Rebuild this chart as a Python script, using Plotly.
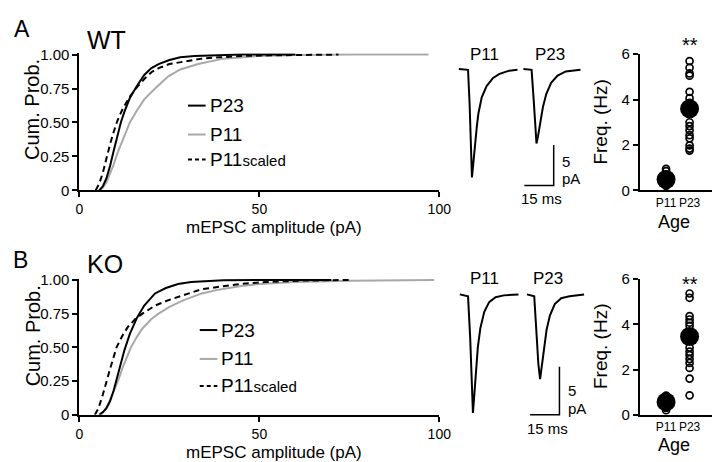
import plotly.graph_objects as go

W, H = 720, 462
FONT = "Liberation Sans, Arial, Helvetica, sans-serif"
GRAY = "#a8a8a8"

# --- CDF data (mEPSC amplitude pA, cumulative probability) ---
wt_p23_amp = [5.5, 6.5, 7.5, 8.5, 9.5, 10.5, 11.5, 12.5, 14, 16, 18, 20, 22, 25, 28, 32, 38, 45, 60]
wt_p23_cum = [0, 0.03, 0.09, 0.18, 0.29, 0.40, 0.50, 0.58, 0.68, 0.77, 0.85, 0.90, 0.93, 0.96, 0.98, 0.99, 0.997, 1.0, 1.0]
wt_p11_amp = [5.5, 6.5, 7.5, 8.5, 9.5, 10.5, 12, 14, 16, 18, 21, 24.7, 28, 33, 40, 50, 60, 75, 97]
wt_p11_cum = [0, 0.02, 0.06, 0.12, 0.19, 0.27, 0.37, 0.50, 0.59, 0.67, 0.75, 0.84, 0.89, 0.93, 0.97, 0.99, 0.996, 1.0, 1.0]
wt_sc_amp = [4.5, 5.5, 6.5, 7.5, 8.5, 9.5, 10.5, 12, 14, 16, 18, 20, 22, 25, 29, 34, 39, 45, 55, 72]
wt_sc_cum = [0, 0.05, 0.13, 0.24, 0.34, 0.43, 0.51, 0.60, 0.69, 0.76, 0.82, 0.87, 0.90, 0.93, 0.95, 0.97, 0.98, 0.99, 0.995, 1.0]

ko_p23_amp = [5.5, 6.5, 7.5, 8.5, 9.5, 10.5, 11.5, 12.5, 14, 16, 18, 21, 24, 27.4, 31, 34, 40, 50, 70]
ko_p23_cum = [0, 0.02, 0.05, 0.10, 0.18, 0.28, 0.38, 0.48, 0.60, 0.72, 0.81, 0.90, 0.94, 0.97, 0.985, 0.99, 0.997, 1.0, 1.0]
ko_p11_amp = [6, 7, 8, 9, 10, 10.7, 12, 14.3, 16, 17.5, 20, 22, 25, 29, 34, 39, 45, 50, 60, 75, 98.6]
ko_p11_cum = [0, 0.03, 0.08, 0.14, 0.21, 0.25, 0.35, 0.50, 0.58, 0.64, 0.71, 0.75, 0.80, 0.85, 0.90, 0.93, 0.955, 0.97, 0.985, 0.995, 1.0]
ko_sc_amp = [4.3, 5.3, 6.5, 7.5, 8.5, 10.3, 12, 13.4, 15.5, 17.5, 21, 24.7, 29, 33.8, 39, 44.6, 52, 62, 75]
ko_sc_cum = [0, 0.05, 0.15, 0.25, 0.34, 0.50, 0.59, 0.65, 0.71, 0.75, 0.81, 0.85, 0.89, 0.93, 0.95, 0.97, 0.985, 0.995, 1.0]

# --- average mEPSC waveforms (time ms, current pA) ---
wt_p11_t = [0, 4.7, 5.5, 6.2, 6.7, 7.5, 8.3, 9.2, 10, 11.7, 14.2, 17.5, 20.8, 25.8, 30]
wt_p11_i = [0, -0.1, -4.3, -10.2, -13.4, -11.4, -9.0, -7.1, -5.5, -3.5, -2.1, -1.1, -0.6, -0.2, -0.1]
wt_p23_t = [0, 4.2, 5.3, 6.2, 6.7, 7.5, 8.8, 10, 11.7, 14.2, 17.5, 21.7, 29.2]
wt_p23_i = [0, -0.1, -3.9, -7.5, -9.2, -8.3, -6.3, -4.7, -3.1, -1.7, -0.8, -0.3, -0.1]
ko_p11_t = [0, 4.2, 5.3, 6.2, 6.7, 7.5, 8.3, 9.2, 10.5, 12.5, 15, 18.3, 22.5, 30]
ko_p11_i = [0, -0.2, -4.5, -9.5, -12.3, -10.2, -7.5, -5.5, -3.5, -1.8, -0.8, -0.3, -0.1, 0]
ko_p23_t = [0, 3.7, 5, 5.8, 6.7, 7.5, 8.7, 10, 11.7, 14.2, 17.5, 21.7, 29.2]
ko_p23_i = [0, -0.2, -4.5, -7.2, -8.8, -7.5, -5.5, -3.7, -2.2, -1.0, -0.4, -0.2, 0]
SCALE_MS, SCALE_PA = 15, 5

# --- frequency (Hz) per cell and means ---
wt_p11_freq = [0.95, 0.85, 0.7, 0.55, 0.4, 0.3, 0.2]
wt_p23_freq = [5.69, 5.40, 5.15, 5.05, 4.34, 4.06, 3.85, 3.0, 2.83, 2.65, 2.43, 2.29, 1.98, 1.84, 1.75]
ko_p11_freq = [0.85, 0.75, 0.6, 0.45, 0.3, 0.2]
ko_p23_freq = [5.36, 5.17, 4.36, 4.21, 4.07, 3.93, 2.97, 2.79, 2.64, 2.46, 2.29, 2.07, 1.6, 0.86]
wt_mean = [0.48, 3.59]
ko_mean = [0.57, 3.46]
ages = ["P11", "P23"]


def fx(px):
    return px / W


def fy(py):
    return 1 - py / H


def xdom(a, b):
    return [fx(a), fx(b)]


def ydom(top, bottom):
    return [fy(bottom), fy(top)]


fig = go.Figure()

def line(x, y, color, n, dash=None, width=2):
    fig.add_trace(go.Scatter(x=x, y=y, mode="lines", xaxis="x" + n, yaxis="y" + n,
                             line=dict(color=color, width=width, dash=dash),
                             showlegend=False, hoverinfo="skip"))

# CDFs (grey first so black sits on top)
line(wt_p11_amp, wt_p11_cum, GRAY, "")
line(wt_sc_amp, wt_sc_cum, "black", "", dash="6px,4px")
line(wt_p23_amp, wt_p23_cum, "black", "")
line(ko_p11_amp, ko_p11_cum, GRAY, "2")
line(ko_sc_amp, ko_sc_cum, "black", "2", dash="6px,4px")
line(ko_p23_amp, ko_p23_cum, "black", "2")

# frequency panels
for n, p11, p23, mean in [("3", wt_p11_freq, wt_p23_freq, wt_mean), ("4", ko_p11_freq, ko_p23_freq, ko_mean)]:
    fig.add_trace(go.Scatter(x=[ages[0]] * len(p11) + [ages[1]] * len(p23), y=p11 + p23, mode="markers",
                             xaxis="x" + n, yaxis="y" + n, cliponaxis=False,
                             marker=dict(symbol="circle-open", size=7, color="black", line=dict(width=1.7)),
                             showlegend=False, hoverinfo="skip"))
    fig.add_trace(go.Scatter(x=ages, y=mean, mode="markers", xaxis="x" + n, yaxis="y" + n, cliponaxis=False,
                             marker=dict(symbol="circle", size=19, color="black"),
                             showlegend=False, hoverinfo="skip"))

# waveforms
line(wt_p11_t, wt_p11_i, "black", "5")
line(wt_p23_t, wt_p23_i, "black", "6")
line(ko_p11_t, ko_p11_i, "black", "7")
line(ko_p23_t, ko_p23_i, "black", "8")

# scale bars (corner position in P23 axes)
for n, cx, cy in [("6", 15.5, -14.4), ("8", 16.6, -12.5)]:
    line([cx - SCALE_MS, cx, cx], [cy, cy, cy + SCALE_PA], "black", n, width=1.5)

axis = dict(showline=True, linecolor="black", linewidth=2, ticks="outside", ticklen=5, tickwidth=2,
            tickcolor="black", showgrid=False, zeroline=False, tickfont=dict(size=15, color="black"))
hidden = dict(visible=False, showgrid=False, zeroline=False)

cdf_x = dict(axis, range=[0, 100], tickvals=[0, 50, 100], ticktext=["0", "50", "100"],
             tickfont=dict(size=14, color="black"))
cdf_y = dict(axis, range=[0, 1.01], tickvals=[0, 0.25, 0.5, 0.75, 1],
             ticktext=["0", "0.25", "0.50", "0.75", "1.00"])
fr_x = dict(axis, type="category", categoryorder="array", categoryarray=ages, range=[-1.12, 2.04],
            ticks="", tickangle=0, tickfont=dict(size=12, color="black"))
fr_y = dict(axis, range=[0, 6], tickvals=[0, 2, 4, 6])

layout = dict(
    width=W, height=H, margin=dict(l=0, r=0, t=0, b=0),
    paper_bgcolor="white", plot_bgcolor="rgba(0,0,0,0)",
    font=dict(family=FONT, color="black"),
    xaxis=dict(cdf_x, domain=xdom(69, 437), anchor="y"),
    yaxis=dict(cdf_y, domain=ydom(180 - 1.01 * 141, 180), anchor="x"),
    xaxis2=dict(cdf_x, domain=xdom(69, 437), anchor="y2"),
    yaxis2=dict(cdf_y, domain=ydom(413 - 1.01 * 140, 413), anchor="x2"),
    xaxis3=dict(fr_x, domain=xdom(642, 718), anchor="y3"),
    yaxis3=dict(fr_y, domain=ydom(38.5, 180), anchor="x3"),
    xaxis4=dict(fr_x, domain=xdom(642, 718), anchor="y4"),
    yaxis4=dict(fr_y, domain=ydom(272, 413), anchor="x4"),
    # WT traces: 2 px/ms, 8.4 px/pA, baseline at 54 px
    xaxis5=dict(hidden, domain=xdom(455, 519), range=[-1, 31], anchor="y5"),
    yaxis5=dict(hidden, domain=ydom(30, 200), range=[-(200 - 54) / 8.4, (54 - 30) / 8.4], anchor="x5"),
    xaxis6=dict(hidden, domain=xdom(521, 600), range=[-1, 38.5], anchor="y6"),
    yaxis6=dict(hidden, domain=ydom(30, 200), range=[-(200 - 54) / 8.4, (54 - 30) / 8.4], anchor="x6"),
    # KO traces: 2 px/ms, 10 px/pA, baseline at 288 px
    xaxis7=dict(hidden, domain=xdom(456, 520), range=[-1, 31], anchor="y7"),
    yaxis7=dict(hidden, domain=ydom(265, 435), range=[-(435 - 288) / 10, (288 - 265) / 10], anchor="x7"),
    xaxis8=dict(hidden, domain=xdom(525, 605), range=[-0.85, 39.15], anchor="y8"),
    yaxis8=dict(hidden, domain=ydom(265, 435), range=[-(435 - 288) / 10, (288 - 265) / 10], anchor="x8"),
)
fig.update_layout(**layout)

ann = []
shapes = []


def text(px, py, s, size, xanchor="center", angle=0):
    ann.append(dict(x=fx(px), y=fy(py), xref="paper", yref="paper", text=s, showarrow=False,
                    xanchor=xanchor, yanchor="middle", textangle=angle,
                    font=dict(size=size, color="black", family=FONT)))


# panel letters and genotype labels
text(10, 12, "A", 23)
text(97, 24, "WT", 25)
text(9, 252, "B", 23)
text(95, 256, "KO", 25)

# axis titles (A row, B row)
for ycum, ytitle, yfreq, yage in [(96, 219, 109, 213), (331, 452, 342, 444)]:
    text(21, ycum, "Cum. Prob.", 20, angle=-90)
    text(268, ytitle, "mEPSC amplitude (pA)", 17)
    text(602, yfreq, "Freq. (Hz)", 19, angle=-90)
    text(677, yage, "Age", 18)

text(693, 29, "**", 20)
text(693, 277, "**", 20)

# trace labels and scale bar labels
text(483, 39, "P11", 17)
text(550, 39, "P23", 17)
text(483, 272, "P11", 17)
text(548, 272, "P23", 17)
text(560, 150, "5", 15, xanchor="left")
text(560, 168, "pA", 15, xanchor="left")
text(542, 188, "15 ms", 15)
text(567, 388, "5", 15, xanchor="left")
text(567, 406, "pA", 15, xanchor="left")
text(548, 427, "15 ms", 15)

# legends
leg_labels = ["P23", "P11", "P11<span style='font-size:15px'>scaled</span>"]
leg_styles = [("black", None), (GRAY, None), ("black", "4px,3px")]
for lx, rows in [(180, (92, 122, 148)), (192, (325, 355, 383))]:
    for (col, dash), lab, ry in zip(leg_styles, leg_labels, rows):
        shapes.append(dict(type="line", xref="paper", yref="paper", x0=fx(lx), x1=fx(lx + 18),
                           y0=fy(ry), y1=fy(ry), line=dict(color=col, width=2, dash=dash or "solid")))
        text(lx + 20, ry, lab, 19, xanchor="left")

fig.update_layout(annotations=ann, shapes=shapes)
fig.write_html("out.html")
